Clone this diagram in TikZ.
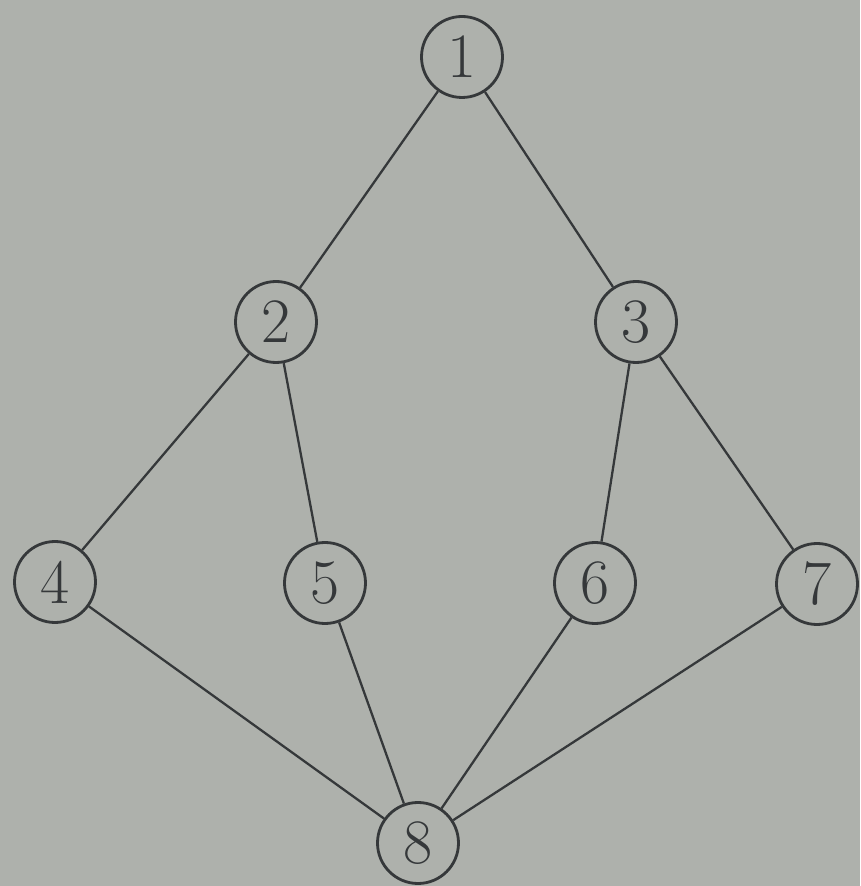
\documentclass[tikz,border=0pt]{standalone}
\usepackage{xcolor}
\usepackage{tikz}
\usetikzlibrary{positioning}
\definecolor{inkG}{HTML}{35383A}
\definecolor{paperG}{HTML}{AEB1AC}

\tikzset{
  vert/.style={draw=inkG, circle, line width=1.6pt, minimum size=1.62cm,
               inner sep=0pt, font=\fontsize{36}{38}\selectfont, text=inkG},
  edge/.style={draw=inkG, line width=1.3pt}
}

\begin{document}
\begin{tikzpicture}
  \fill[paperG] (0,0) rectangle (17.2,17.72);
  \useasboundingbox (0,0) rectangle (17.2,17.72);

  % levels
  \node[vert] (n1) at (9.24,16.58) {1};
  \node[vert] (n2) at (5.52,11.28) {2};
  \node[vert] (n3) at (12.72,11.28) {3};
  \node[vert] (n4) at (1.10,6.08) {4};
  \node[vert] (n5) at (6.50,6.06) {5};
  \node[vert] (n6) at (11.90,6.06) {6};
  \node[vert] (n7) at (16.34,6.04) {7};
  \node[vert] (n8) at (8.36,0.86) {8};

  \draw[edge] (n1) -- (n2);
  \draw[edge] (n1) -- (n3);
  \draw[edge] (n2) -- (n4);
  \draw[edge] (n2) -- (n5);
  \draw[edge] (n3) -- (n6);
  \draw[edge] (n3) -- (n7);
  \draw[edge] (n4) -- (n8);
  \draw[edge] (n5) -- (n8);
  \draw[edge] (n6) -- (n8);
  \draw[edge] (n7) -- (n8);
\end{tikzpicture}
\end{document}
